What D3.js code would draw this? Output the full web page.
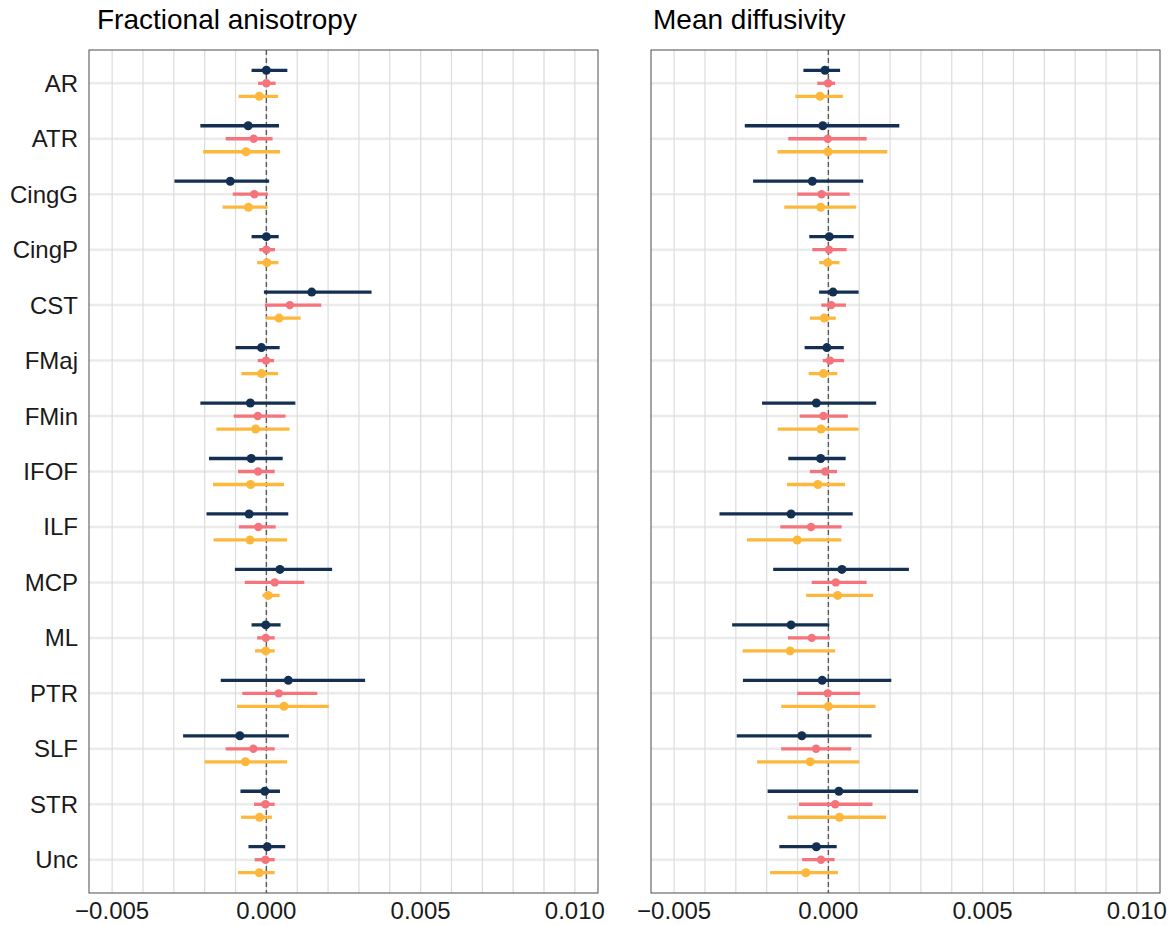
<!DOCTYPE html>
<html>
<head>
<meta charset="utf-8">
<script src="https://cdn.jsdelivr.net/npm/d3@7"></script>
<style>
  body { margin: 0; background: #fff; }
  svg { display: block; font-family: "Liberation Sans", Arial, Helvetica, sans-serif; }
</style>
</head>
<body>
<svg id="viz"></svg>
<script>
var width = 1174;
var height = 925;

// tracts, top to bottom
var tracts = ["AR", "ATR", "CingG", "CingP", "CST", "FMaj", "FMin", "IFOF", "ILF", "MCP", "ML", "PTR", "SLF", "STR", "Unc"];
var seriesNames = ["s1", "s2", "s3"];
var seriesColors = ["#132f52", "#f5737a", "#fdb83c"];
var panelTitles = ["Fractional anisotropy", "Mean diffusivity"];
var xTicks = [-0.005, 0, 0.005, 0.010];

// [low, estimate, high] per tract
var faS1 = [[-0.48e-3, 0.00e-3, 0.68e-3], [-2.14e-3, -0.59e-3, 0.41e-3], [-2.98e-3, -1.17e-3, 0.09e-3], [-0.48e-3, 0.00e-3, 0.40e-3],
  [-0.08e-3, 1.47e-3, 3.41e-3], [-1.00e-3, -0.16e-3, 0.43e-3], [-2.14e-3, -0.52e-3, 0.94e-3], [-1.86e-3, -0.49e-3, 0.53e-3],
  [-1.94e-3, -0.56e-3, 0.71e-3], [-1.02e-3, 0.44e-3, 2.13e-3], [-0.48e-3, -0.02e-3, 0.46e-3], [-1.48e-3, 0.71e-3, 3.20e-3],
  [-2.70e-3, -0.86e-3, 0.73e-3], [-0.84e-3, -0.05e-3, 0.44e-3], [-0.58e-3, 0.03e-3, 0.61e-3]];
var faS2 = [[-0.27e-3, 0.00e-3, 0.30e-3], [-1.32e-3, -0.41e-3, 0.20e-3], [-1.09e-3, -0.39e-3, 0.05e-3], [-0.23e-3, 0.00e-3, 0.28e-3],
  [-0.05e-3, 0.76e-3, 1.78e-3], [-0.28e-3, -0.01e-3, 0.25e-3], [-1.06e-3, -0.28e-3, 0.62e-3], [-0.92e-3, -0.27e-3, 0.27e-3],
  [-0.89e-3, -0.26e-3, 0.30e-3], [-0.70e-3, 0.27e-3, 1.23e-3], [-0.30e-3, -0.02e-3, 0.27e-3], [-0.78e-3, 0.40e-3, 1.65e-3],
  [-1.32e-3, -0.42e-3, 0.27e-3], [-0.40e-3, -0.03e-3, 0.27e-3], [-0.38e-3, -0.03e-3, 0.27e-3]];
var faS3 = [[-0.90e-3, -0.23e-3, 0.38e-3], [-2.05e-3, -0.66e-3, 0.44e-3], [-1.42e-3, -0.58e-3, 0.04e-3], [-0.30e-3, 0.02e-3, 0.39e-3],
  [-0.02e-3, 0.41e-3, 1.11e-3], [-0.81e-3, -0.16e-3, 0.38e-3], [-1.62e-3, -0.35e-3, 0.75e-3], [-1.73e-3, -0.51e-3, 0.57e-3],
  [-1.71e-3, -0.53e-3, 0.67e-3], [-0.13e-3, 0.06e-3, 0.43e-3], [-0.37e-3, -0.02e-3, 0.27e-3], [-0.95e-3, 0.57e-3, 2.02e-3],
  [-2.00e-3, -0.68e-3, 0.67e-3], [-0.82e-3, -0.22e-3, 0.18e-3], [-0.92e-3, -0.23e-3, 0.27e-3]];

var mdS1 = [[-0.81e-3, -0.11e-3, 0.38e-3], [-2.71e-3, -0.18e-3, 2.30e-3], [-2.44e-3, -0.52e-3, 1.13e-3], [-0.62e-3, 0.03e-3, 0.82e-3],
  [-0.30e-3, 0.15e-3, 0.98e-3], [-0.77e-3, -0.05e-3, 0.50e-3], [-2.15e-3, -0.39e-3, 1.55e-3], [-1.30e-3, -0.25e-3, 0.56e-3],
  [-3.53e-3, -1.21e-3, 0.79e-3], [-1.79e-3, 0.44e-3, 2.61e-3], [-3.12e-3, -1.21e-3, 0.03e-3], [-2.77e-3, -0.20e-3, 2.04e-3],
  [-2.97e-3, -0.86e-3, 1.40e-3], [-1.97e-3, 0.34e-3, 2.91e-3], [-1.59e-3, -0.39e-3, 0.27e-3]];
var mdS2 = [[-0.36e-3, -0.01e-3, 0.22e-3], [-1.30e-3, -0.02e-3, 1.24e-3], [-1.01e-3, -0.22e-3, 0.69e-3], [-0.52e-3, 0.02e-3, 0.59e-3],
  [-0.23e-3, 0.09e-3, 0.57e-3], [-0.18e-3, 0.05e-3, 0.51e-3], [-0.93e-3, -0.16e-3, 0.63e-3], [-0.60e-3, -0.10e-3, 0.28e-3],
  [-1.56e-3, -0.56e-3, 0.43e-3], [-0.54e-3, 0.24e-3, 1.24e-3], [-1.31e-3, -0.54e-3, 0.05e-3], [-1.01e-3, -0.02e-3, 1.03e-3],
  [-1.53e-3, -0.40e-3, 0.74e-3], [-0.95e-3, 0.22e-3, 1.43e-3], [-0.85e-3, -0.24e-3, 0.20e-3]];
var mdS3 = [[-1.07e-3, -0.27e-3, 0.47e-3], [-1.65e-3, -0.01e-3, 1.91e-3], [-1.43e-3, -0.25e-3, 0.90e-3], [-0.30e-3, -0.02e-3, 0.36e-3],
  [-0.60e-3, -0.13e-3, 0.24e-3], [-0.64e-3, -0.16e-3, 0.29e-3], [-1.64e-3, -0.24e-3, 0.98e-3], [-1.34e-3, -0.34e-3, 0.54e-3],
  [-2.64e-3, -1.01e-3, 0.42e-3], [-0.72e-3, 0.30e-3, 1.45e-3], [-2.78e-3, -1.24e-3, 0.22e-3], [-1.53e-3, 0.00e-3, 1.53e-3],
  [-2.31e-3, -0.59e-3, 1.00e-3], [-1.32e-3, 0.36e-3, 1.87e-3], [-1.89e-3, -0.73e-3, 0.31e-3]];

var panelData = [[faS1, faS2, faS3], [mdS1, mdS2, mdS3]];

// layout
var panelLeft = [89, 651];
var panelWidth = 509;
var panelTop = 50;
var panelBottom = 893;

var svg = d3.select("#viz").attr("width", width).attr("height", height);

var y = d3.scalePoint().domain(tracts).range([panelTop, panelBottom]).padding(0.6);
var dodge = d3.scalePoint().domain(seriesNames).range([-13, 13]);

panelTitles.forEach(function (title, p) {
  var x = d3.scaleLinear().domain([-0.00575, 0.01075]).range([panelLeft[p], panelLeft[p] + panelWidth]);
  var g = svg.append("g");

  // grid
  g.append("g").selectAll("line")
    .data(tracts)
    .join("line")
    .attr("x1", x.range()[0]).attr("x2", x.range()[1])
    .attr("y1", d => y(d)).attr("y2", d => y(d))
    .attr("stroke", "#ebebeb")
    .attr("stroke-width", 2.5);

  g.append("g").selectAll("line")
    .data(d3.range(-5, 11).map(i => i / 1000))
    .join("line")
    .attr("x1", d => x(d)).attr("x2", d => x(d))
    .attr("y1", panelTop).attr("y2", panelBottom)
    .attr("stroke", "#dcdcdc")
    .attr("stroke-width", 1.2);

  // zero reference
  g.append("line")
    .attr("x1", x(0)).attr("x2", x(0))
    .attr("y1", panelTop).attr("y2", panelBottom)
    .attr("stroke", "#5a5a5a")
    .attr("stroke-width", 1.4)
    .attr("stroke-dasharray", "5,3");

  // series
  panelData[p].forEach(function (rows, s) {
    var sg = g.append("g");
    var cy = (d, i) => y(tracts[i]) + dodge(seriesNames[s]);
    sg.selectAll("line")
      .data(rows)
      .join("line")
      .attr("x1", d => x(d[0])).attr("x2", d => x(d[2]))
      .attr("y1", cy).attr("y2", cy)
      .attr("stroke", seriesColors[s])
      .attr("stroke-width", 3.3);
    sg.selectAll("circle")
      .data(rows)
      .join("circle")
      .attr("cx", d => x(d[1]))
      .attr("cy", cy)
      .attr("r", s == 1 ? 4.2 : 4.5)
      .attr("fill", seriesColors[s]);
  });

  // border
  g.append("rect")
    .attr("x", x.range()[0]).attr("y", panelTop)
    .attr("width", panelWidth).attr("height", panelBottom - panelTop)
    .attr("fill", "none")
    .attr("stroke", "#4d4d4d")
    .attr("stroke-width", 1);

  // x axis labels
  g.append("g").selectAll("text")
    .data(xTicks)
    .join("text")
    .attr("x", d => x(d))
    .attr("y", 919)
    .attr("text-anchor", "middle")
    .attr("font-size", 24)
    .attr("fill", "#1a1a1a")
    .text(d3.format(".3f"));

  // y axis labels (left panel only)
  if (p == 0) {
    g.append("g").selectAll("text")
      .data(tracts)
      .join("text")
      .attr("x", panelLeft[p] - 11)
      .attr("y", d => y(d) + 8.5)
      .attr("text-anchor", "end")
      .attr("font-size", 24)
      .attr("fill", "#1a1a1a")
      .text(d => d);
  }

  svg.append("text")
    .attr("x", p == 0 ? 97 : 653)
    .attr("y", 29)
    .attr("font-size", 28)
    .attr("fill", "#000")
    .text(title);
});
</script>
</body>
</html>
